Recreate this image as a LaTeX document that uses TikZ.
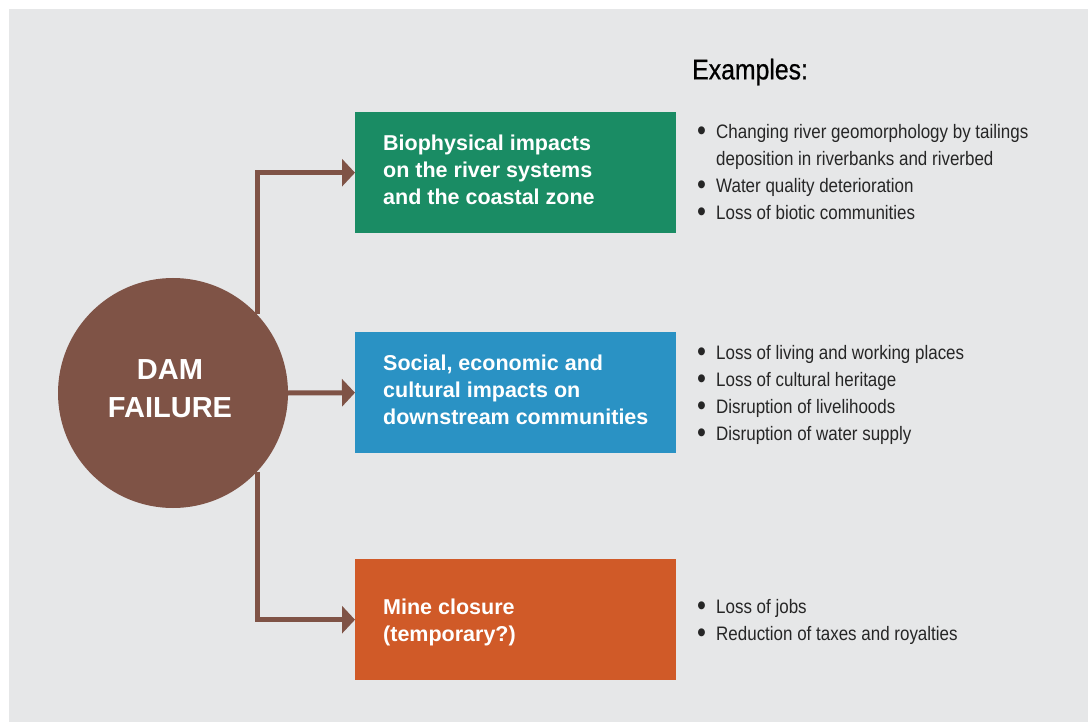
\documentclass[tikz,border=0pt]{standalone}
\usepackage{fontspec}
\setmainfont{Liberation Sans}
\newfontfamily\narrowfont[FakeStretch=0.87]{Liberation Sans}
\newfontfamily\titlefont[FakeStretch=0.87,FakeBold=0.6]{Liberation Sans}
\usetikzlibrary{arrows.meta}

\definecolor{bggray}{HTML}{E6E7E8}
\definecolor{dambrown}{HTML}{7F5346}
\definecolor{biogreen}{HTML}{1A8C64}
\definecolor{socblue}{HTML}{2A92C4}
\definecolor{mineorange}{HTML}{D05A28}

\newcommand{\bul}{\makebox[19pt][l]{\raisebox{-2.5pt}{\scalebox{1.5}{\textbullet}}}}
\newcommand{\nobul}{\hspace*{19pt}}

\begin{document}
\begin{tikzpicture}[x=1pt, y=-1pt, line join=miter]
      \tikzstyle{impact} = [minimum width=321pt, minimum height=121pt, inner sep=0pt, anchor=north west]
      \tikzstyle{boxtext} = [font=\fontsize{21.5}{27}\selectfont\bfseries, color=white, align=left, anchor=west, inner sep=0pt]
      \tikzstyle{examples} = [font=\narrowfont\fontsize{19.5}{27}\selectfont, color=black!85, align=left, anchor=north west, inner sep=0pt]
      \tikzstyle{link} = [draw=dambrown, line width=5pt, -{Triangle[length=13pt,width=27pt]}]
      % background
      \useasboundingbox (0,0) rectangle (1088,722);
      \fill[bggray] (9,9) rectangle (1088,722);
      % dam failure
      \node (dam) [circle, fill=dambrown, minimum size=230pt, inner sep=0pt] at (173,393) {};
      \node [align=center, font=\fontsize{29}{38}\selectfont\bfseries, text=white] at (170,389) {DAM\\FAILURE};
      % impact boxes
      \node (bio) [impact, fill=biogreen] at (355,112) {};
      \node (soc) [impact, fill=socblue] at (355,332) {};
      \node (mine) [impact, fill=mineorange] at (355,559) {};
      \node [boxtext] at (383,170) {Biophysical impacts\\on the river systems\\and the coastal zone};
      \node [boxtext] at (383,390) {Social, economic and\\cultural impacts on\\downstream communities};
      \node [boxtext] at (383,622) {Mine closure\\(temporary?)};
      % examples
      \node (title) [font=\titlefont\fontsize{28.5}{30}\selectfont, anchor=west, inner sep=0pt] at (692,72) {Examples:};
      \node (exbio) [examples] at (697,124) {\bul Changing river geomorphology by tailings\\
        \nobul deposition in riverbanks and riverbed\\
        \bul Water quality deterioration\\
        \bul Loss of biotic communities};
      \node (exsoc) [examples] at (697,345) {\bul Loss of living and working places\\
        \bul Loss of cultural heritage\\
        \bul Disruption of livelihoods\\
        \bul Disruption of water supply};
      \node (exmine) [examples] at (697,599) {\bul Loss of jobs\\
        \bul Reduction of taxes and royalties};
      % arrows
      \draw[link] (dam.43) -- (dam.43 |- bio.west) -- (bio.west);
      \draw[link] (dam.east) -- (soc.west);
      \draw[link] (dam.-43) -- (dam.-43 |- mine.west) -- (mine.west);
    \end{tikzpicture}
\end{document}
